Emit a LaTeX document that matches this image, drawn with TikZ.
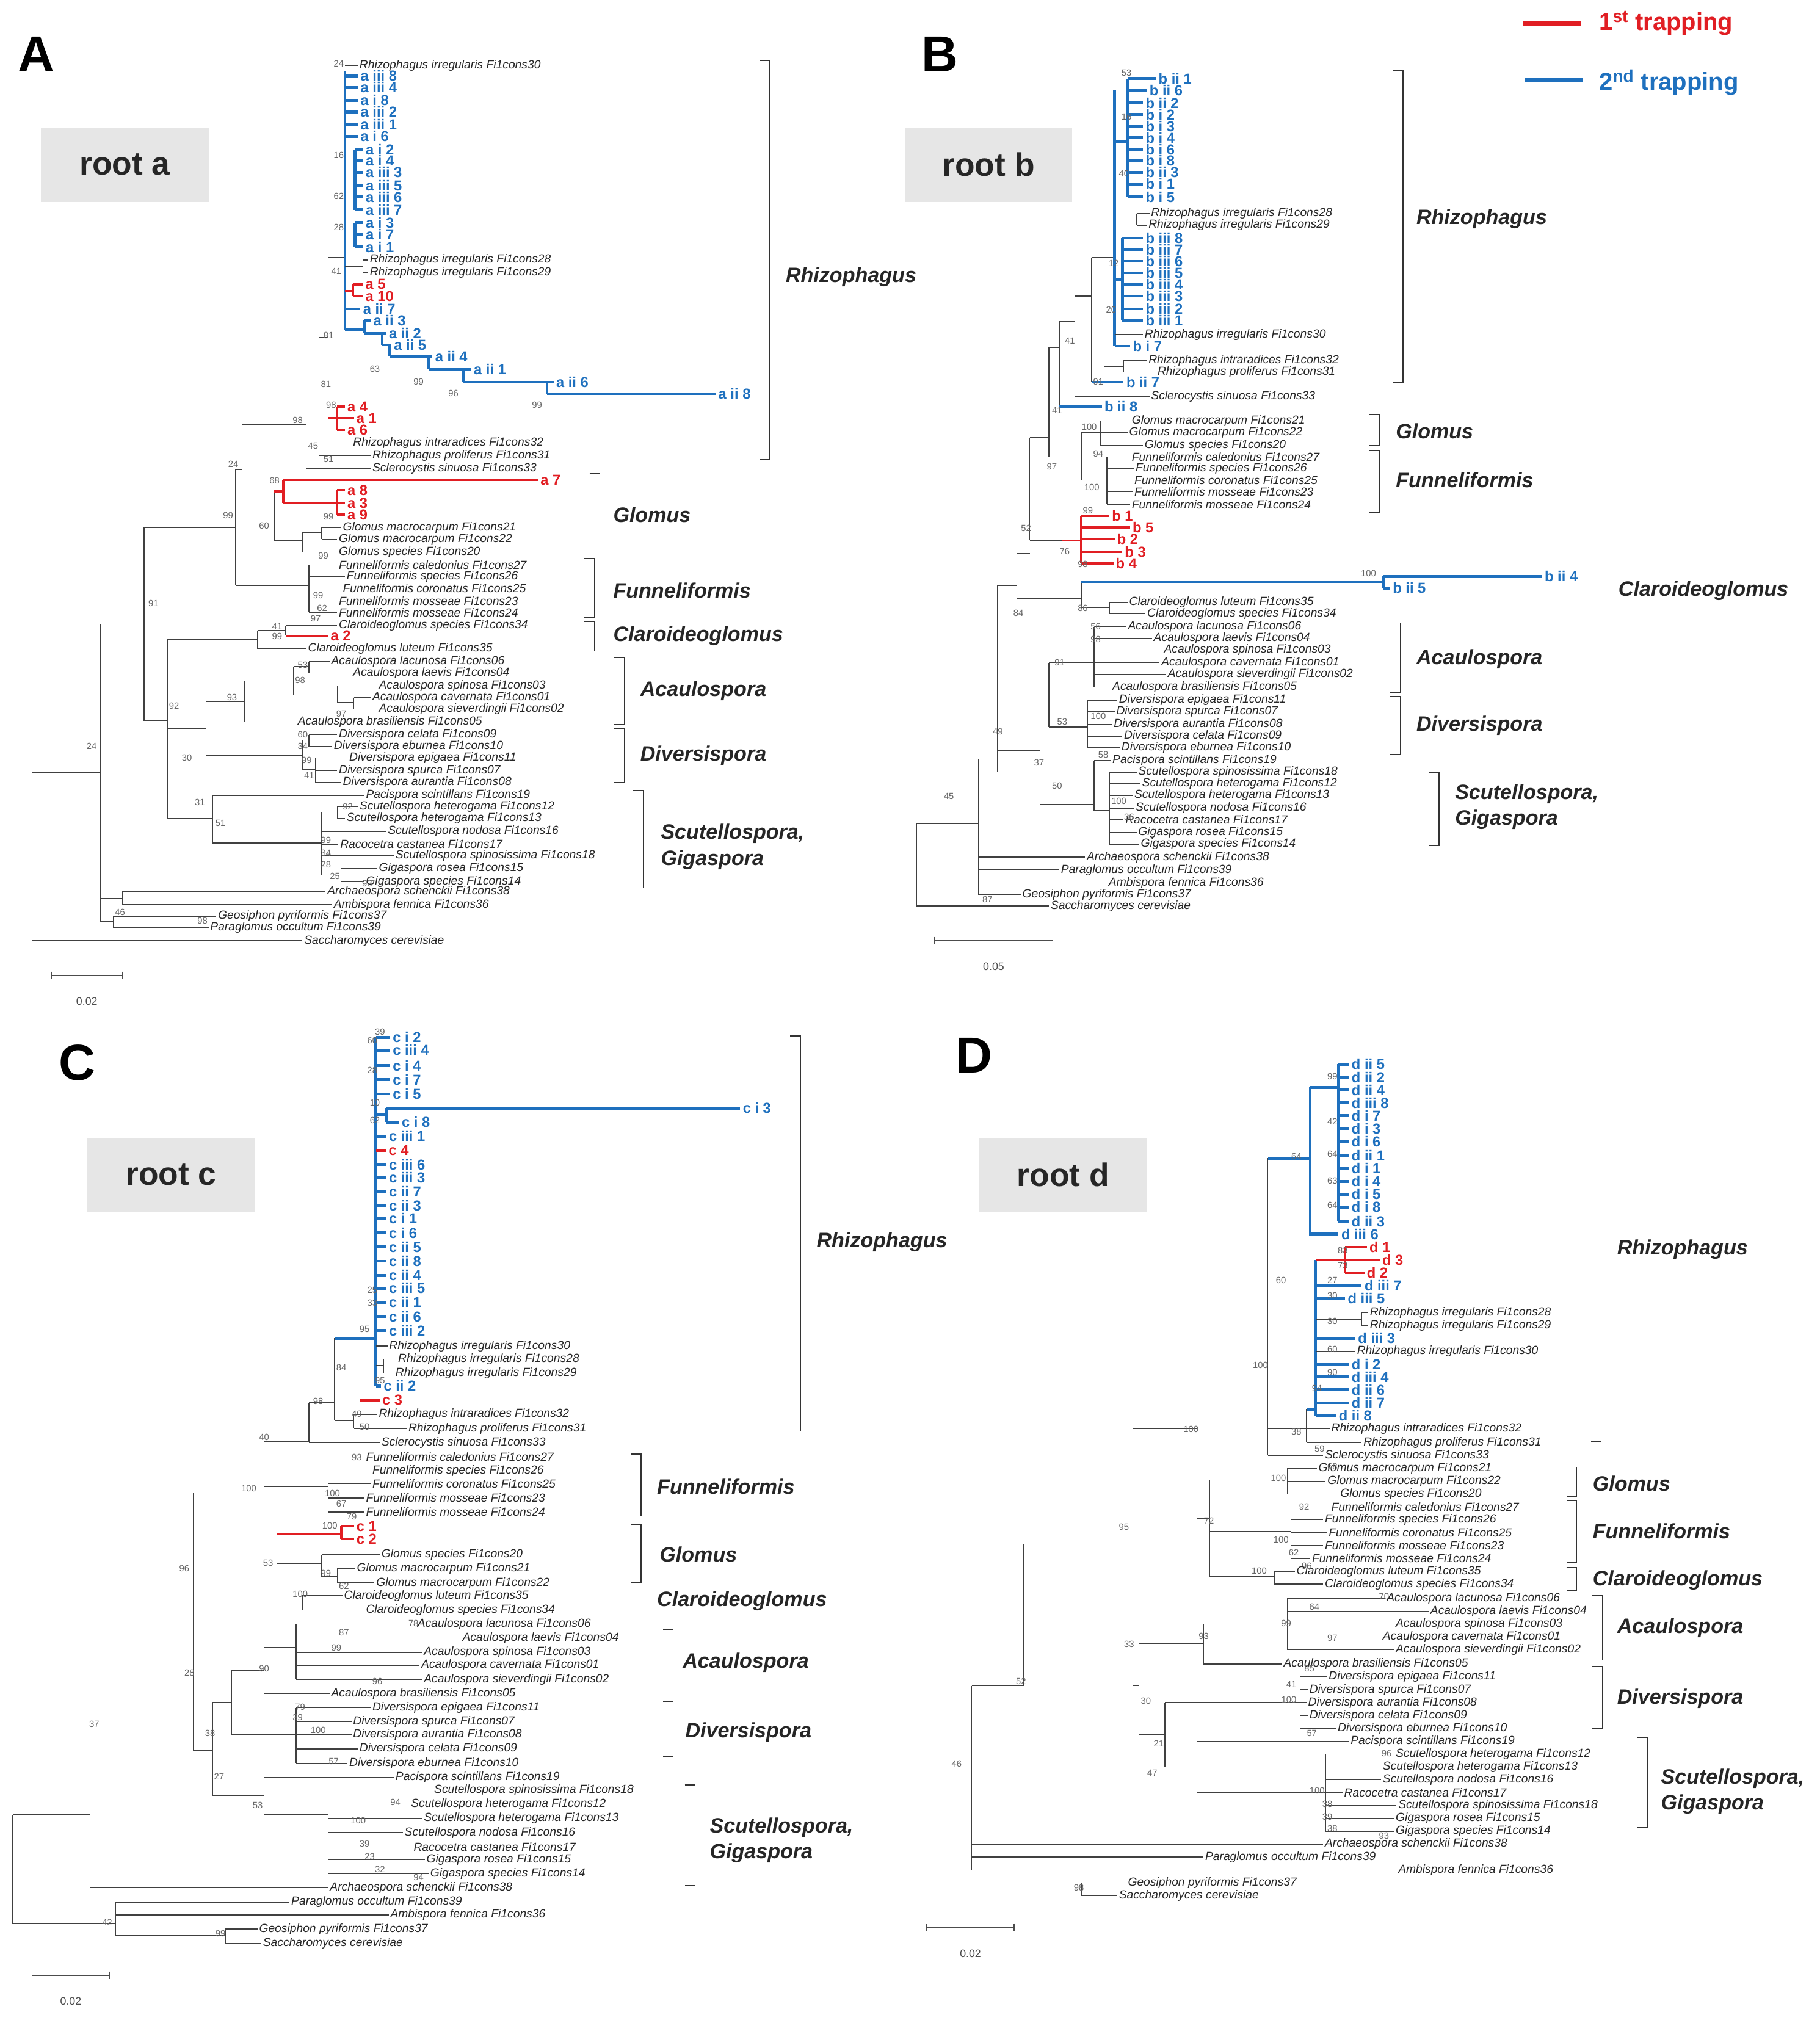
\documentclass[tikz,border=0pt]{standalone}
\usepackage{fontspec}
\setmainfont{Liberation Sans}
\definecolor{bl}{RGB}{30,112,190}
\definecolor{rd}{RGB}{225,30,35}
\definecolor{gbox}{RGB}{230,230,230}
\tikzset{
 tk/.style={line width=0.9pt,black!75},
 tb/.style={line width=3.2pt,bl},
 tr/.style={line width=2.6pt,rd},
 lk/.style={anchor=west,inner sep=1.5pt,font=\fontsize{13}{13}\selectfont\itshape,text=black!85},
 lb/.style={anchor=west,inner sep=1.5pt,font=\fontsize{16}{16}\selectfont\bfseries,text=bl},
 lr/.style={anchor=west,inner sep=1.5pt,font=\fontsize{16}{16}\selectfont\bfseries,text=rd},
 bs/.style={anchor=south east,inner sep=1pt,font=\fontsize{10}{10}\selectfont,text=black!60},
 cl/.style={anchor=west,font=\fontsize{23}{23}\selectfont\bfseries\itshape,text=black!85},
 rootbox/.style={fill=gbox,minimum width=6.5cm,minimum height=2.9cm,font=\fontsize{36}{36}\selectfont\bfseries,text=black!85},
 pl/.style={font=\fontsize{56}{56}\selectfont\bfseries},
 sc/.style={font=\fontsize{12}{12}\selectfont,text=black!70},
}
\newcommand\LK[4]{\draw[tk] (#1,#3)--(#2,#3) node[lk]{#4};}
\newcommand\LB[4]{\draw[tb] (#1,#3)--(#2,#3) node[lb]{#4};}
\newcommand\LR[4]{\draw[tr] (#1,#3)--(#2,#3) node[lr]{#4};}
\newcommand\VK[3]{\draw[tk] (#1,#2)--(#1,#3);}
\newcommand\VB[3]{\draw[tb] (#1,#2)--(#1,#3);}
\newcommand\VR[3]{\draw[tr] (#1,#2)--(#1,#3);}
\newcommand\HK[3]{\draw[tk] (#1,#3)--(#2,#3);}
\newcommand\HB[3]{\draw[tb] (#1,#3)--(#2,#3);}
\newcommand\HR[3]{\draw[tr] (#1,#3)--(#2,#3);}
\newcommand\BS[3]{\node[bs] at (#1,#2) {#3};}
\newcommand\BRK[3]{\draw[line width=1pt,black!80] (#1-8,#2)--(#1,#2)--(#1,#3)--(#1-8,#3);}
\newcommand\CLD[3]{\node[cl] at (#1,#2) {#3};}
\newcommand\SCB[4]{\draw[line width=1pt,black!70] (#1,#3)--(#2,#3); \draw[line width=1pt,black!70] (#1,#3-3)--(#1,#3+3) (#2,#3-3)--(#2,#3+3); \node[sc] at ({(#1+#2)/2},#3+20) {#4};}
\begin{document}
\begin{tikzpicture}[x=0.05cm,y=-0.05cm]
\fill[white] (0,0) rectangle (1414,1572);
\useasboundingbox (0,0) rectangle (1414,1572);
% legend
\draw[rd,line width=5pt] (1183,18)--(1228,18);
\node[anchor=west,text=rd,font=\fontsize{27}{27}\selectfont\bfseries] at (1240,18) {1\textsuperscript{st} trapping};
\draw[bl,line width=5pt] (1185,62)--(1230,62);
\node[anchor=west,text=bl,font=\fontsize{27}{27}\selectfont\bfseries] at (1240,64) {2\textsuperscript{nd} trapping};
% ================= A =================
\node[pl] at (28,42) {A};
\node[rootbox] at (97,128) {root a};
\LK{25}{235}{731}{Saccharomyces cerevisiae}
\VK{25}{600}{731}\HK{25}{78}{600}
\VK{78}{485}{716}
\VK{88}{712}{721}\HK{78}{88}{716}
\LK{88}{168}{712}{Geosiphon pyriformis Fi1cons37}
\LK{88}{162}{721}{Paraglomus occultum Fi1cons39}
\VK{95}{693}{703}\HK{78}{95}{698}
\LK{95}{253}{693}{Archaeospora schenckii Fi1cons38}
\LK{95}{258}{703}{Ambispora fennica Fi1cons36}
\HK{78}{112}{485}
\VK{112}{410}{560}\HK{112}{183}{410}\HK{112}{130}{560}
\VK{130}{497}{636}
\HK{130}{200}{497}\VK{200}{490}{504}\VK{222}{486}{494}\HK{200}{222}{490}
\LK{222}{262}{486}{Claroideoglomus species Fi1cons34}
\LR{222}{255}{494}{a 2}
\LK{200}{238}{504}{Claroideoglomus luteum Fi1cons35}
\HK{130}{160}{566}\VK{160}{545}{587}
\HK{160}{190}{545}\VK{190}{529}{561}\HK{190}{228}{529}\VK{228}{518}{540}
\HK{228}{240}{518}\VK{240}{514}{523}
\LK{240}{256}{514}{Acaulospora lacunosa Fi1cons06}
\LK{240}{273}{523}{Acaulospora laevis Fi1cons04}
\HK{228}{262}{540}\VK{262}{533}{546}\HK{262}{275}{546}\VK{275}{542}{551}
\LK{262}{293}{533}{Acaulospora spinosa Fi1cons03}
\LK{275}{288}{542}{Acaulospora cavernata Fi1cons01}
\LK{275}{293}{551}{Acaulospora sieverdingii Fi1cons02}
\LK{190}{230}{561}{Acaulospora brasiliensis Fi1cons05}
\HK{160}{235}{587}\VK{235}{575}{598}\HK{235}{240}{575}\VK{240}{571}{580}\HK{235}{245}{598}\VK{245}{589}{608}
\LK{240}{262}{571}{Diversispora celata Fi1cons09}
\LK{240}{258}{580}{Diversispora eburnea Fi1cons10}
\LK{245}{270}{589}{Diversispora epigaea Fi1cons11}
\LK{245}{262}{599}{Diversispora spurca Fi1cons07}
\LK{245}{265}{608}{Diversispora aurantia Fi1cons08}
\HK{130}{165}{636}\VK{165}{618}{655}
\LK{165}{283}{618}{Pacispora scintillans Fi1cons19}
\HK{165}{250}{655}\VK{250}{631}{680}\HK{250}{262}{631}\VK{262}{627}{636}
\LK{262}{278}{627}{Scutellospora heterogama Fi1cons12}
\LK{262}{268}{636}{Scutellospora heterogama Fi1cons13}
\LK{250}{300}{646}{Scutellospora nodosa Fi1cons16}
\LK{250}{263}{656}{Racocetra castanea Fi1cons17}
\LK{250}{306}{665}{Scutellospora spinosissima Fi1cons18}
\HK{250}{265}{680}\VK{265}{675}{685}
\LK{265}{293}{675}{Gigaspora rosea Fi1cons15}
\LK{265}{283}{685}{Gigaspora species Fi1cons14}
\VK{183}{365}{455}\HK{183}{188}{365}\HK{183}{240}{455}
\VK{240}{439}{476}
\LK{240}{262}{439}{Funneliformis caledonius Fi1cons27}
\LK{240}{268}{448}{Funneliformis species Fi1cons26}
\LK{240}{265}{457}{Funneliformis coronatus Fi1cons25}
\LK{240}{262}{467}{Funneliformis mosseae Fi1cons23}
\LK{240}{262}{476}{Funneliformis mosseae Fi1cons24}
\VK{188}{330}{400}\HK{188}{238}{330}\HK{188}{213}{400}
\VK{213}{382}{420}\HR{213}{220}{382}\VR{220}{373}{391}
\LR{220}{418}{373}{a 7}
\HR{220}{262}{391}\VR{262}{381}{400}
\LR{262}{268}{381}{a 8}\LR{262}{268}{391}{a 3}\LR{262}{268}{400}{a 9}
\HK{213}{235}{420}\VK{235}{414}{429}\HK{235}{250}{414}\VK{250}{410}{419}
\LK{250}{265}{410}{Glomus macrocarpum Fi1cons21}
\LK{250}{262}{419}{Glomus macrocarpum Fi1cons22}
\LK{235}{262}{429}{Glomus species Fi1cons20}
\VK{238}{300}{364}\HK{238}{248}{300}
\LK{238}{288}{364}{Sclerocystis sinuosa Fi1cons33}
\VK{248}{262}{354}\HK{248}{255}{262}
\LK{248}{273}{344}{Rhizophagus intraradices Fi1cons32}
\LK{248}{288}{354}{Rhizophagus proliferus Fi1cons31}
\VK{255}{200}{325}\HK{255}{268}{200}
\HR{255}{262}{325}\VR{262}{316}{334}
\LR{262}{268}{316}{a 4}\LR{262}{275}{325}{a 1}\LR{262}{268}{334}{a 6}
\VB{268}{55}{256}
\LK{268}{278}{51}{Rhizophagus irregularis Fi1cons30}
\foreach \y/\t in {59/a iii 8,68/a iii 4,78/a i 8,87/a iii 2,97/a iii 1,106/a i 6}{\LB{268}{278}{\y}{\t}}
\VB{276}{116}{163}\VB{276}{173}{192}
\foreach \y/\t in {116/a i 2,125/a i 4,134/a iii 3,144/a iii 5,153/a iii 6,163/a iii 7,173/a i 3,182/a i 7,192/a i 1}{\LB{276}{282}{\y}{\t}}
\VK{282}{202}{212}\HK{268}{282}{207}
\LK{282}{286}{202}{Rhizophagus irregularis Fi1cons28}
\LK{282}{286}{212}{Rhizophagus irregularis Fi1cons29}
\VR{274}{221}{230}\HR{268}{274}{226}
\LR{274}{282}{221}{a 5}\LR{274}{282}{230}{a 10}
\LB{268}{280}{240}{a ii 7}
\HB{268}{283}{256}\VB{283}{249}{259}\LB{283}{288}{249}{a ii 3}
\HB{283}{297}{259}\VB{297}{259}{268}\LB{297}{300}{259}{a ii 2}
\HB{297}{303}{268}\VB{303}{268}{277}\LB{303}{304}{268}{a ii 5}
\HB{303}{333}{277}\VB{333}{277}{287}\LB{333}{336}{277}{a ii 4}
\HB{333}{360}{287}\VB{360}{287}{297}\LB{360}{366}{287}{a ii 1}
\HB{360}{425}{297}\VB{425}{297}{306}\LB{425}{430}{297}{a ii 6}
\LB{425}{556}{306}{a ii 8}
\BS{268}{53}{24}\BS{268}{124}{16}\BS{268}{156}{62}\BS{268}{180}{28}\BS{266}{214}{41}\BS{260}{264}{81}\BS{296}{290}{63}\BS{330}{300}{99}\BS{357}{309}{96}\BS{422}{318}{99}
\BS{258}{302}{81}\BS{262}{318}{98}\BS{248}{350}{45}\BS{260}{360}{51}\BS{236}{330}{98}\BS{186}{364}{24}\BS{218}{377}{68}\BS{210}{412}{60}\BS{182}{404}{99}\BS{260}{405}{99}\BS{256}{435}{99}\BS{252}{466}{99}\BS{255}{476}{62}\BS{250}{484}{97}
\BS{220}{490}{41}\BS{220}{498}{99}\BS{124}{472}{91}\BS{240}{520}{53}\BS{238}{532}{98}\BS{185}{545}{93}\BS{270}{558}{97}\BS{140}{552}{92}\BS{240}{574}{60}\BS{240}{583}{34}\BS{243}{594}{99}\BS{245}{606}{41}\BS{150}{592}{30}\BS{160}{627}{31}\BS{176}{643}{51}\BS{275}{630}{92}\BS{258}{656}{99}\BS{258}{666}{34}\BS{258}{675}{28}\BS{265}{684}{25}\BS{290}{690}{93}\BS{76}{583}{24}\BS{98}{712}{46}\BS{162}{719}{98}
\BRK{598}{47}{357}\CLD{608}{215}{Rhizophagus}
\BRK{466}{368}{432}\CLD{474}{400}{Glomus}
\BRK{462}{434}{480}\CLD{474}{459}{Funneliformis}
\BRK{462}{483}{506}\CLD{474}{494}{Claroideoglomus}
\BRK{485}{511}{563}\CLD{495}{537}{Acaulospora}
\BRK{485}{566}{608}\CLD{495}{587}{Diversispora}
\BRK{500}{614}{690}\CLD{511}{648}{Scutellospora,}\CLD{511}{668}{Gigaspora}
\SCB{40}{95}{758}{0.02}
% ================= B =================
\node[pl] at (730,42) {B};
\node[rootbox] at (768,128) {root b};
\VK{712}{640}{704}\HK{712}{760}{640}
\LK{712}{815}{704}{Saccharomyces cerevisiae}
\VK{760}{590}{695}
\LK{760}{793}{695}{Geosiphon pyriformis Fi1cons37}
\LK{760}{860}{686}{Ambispora fennica Fi1cons36}
\LK{760}{823}{676}{Paraglomus occultum Fi1cons39}
\LK{760}{843}{666}{Archaeospora schenckii Fi1cons38}
\HK{760}{775}{590}\VK{775}{455}{600}
\HK{775}{808}{583}\VK{808}{540}{625}
\HK{808}{850}{625}\VK{850}{591}{630}
\LK{850}{863}{591}{Pacispora scintillans Fi1cons19}
\HK{850}{862}{630}\VK{862}{600}{656}
\LK{862}{883}{600}{Scutellospora spinosissima Fi1cons18}
\LK{862}{886}{609}{Scutellospora heterogama Fi1cons12}
\LK{862}{880}{618}{Scutellospora heterogama Fi1cons13}
\LK{862}{881}{628}{Scutellospora nodosa Fi1cons16}
\LK{862}{873}{637}{Racocetra castanea Fi1cons17}
\LK{862}{883}{647}{Gigaspora rosea Fi1cons15}
\LK{862}{885}{656}{Gigaspora species Fi1cons14}
\HK{808}{815}{540}\VK{815}{515}{565}
\HK{815}{850}{515}\VK{850}{487}{534}
\LK{850}{875}{487}{Acaulospora lacunosa Fi1cons06}
\LK{850}{895}{496}{Acaulospora laevis Fi1cons04}
\LK{850}{903}{505}{Acaulospora spinosa Fi1cons03}
\LK{850}{901}{515}{Acaulospora cavernata Fi1cons01}
\LK{850}{906}{524}{Acaulospora sieverdingii Fi1cons02}
\LK{850}{863}{534}{Acaulospora brasiliensis Fi1cons05}
\HK{815}{845}{565}\VK{845}{544}{581}
\LK{845}{868}{544}{Diversispora epigaea Fi1cons11}
\LK{845}{866}{553}{Diversispora spurca Fi1cons07}
\LK{845}{864}{563}{Diversispora aurantia Fi1cons08}
\LK{845}{872}{572}{Diversispora celata Fi1cons09}
\LK{845}{870}{581}{Diversispora eburnea Fi1cons10}
\HK{775}{790}{455}\VK{790}{430}{465}
\HK{790}{840}{465}\VK{840}{452}{472}
\HB{840}{1075}{452}\VB{1075}{448}{457}
\LB{1075}{1198}{448}{b ii 4}\LB{1075}{1080}{457}{b ii 5}
\HK{840}{862}{472}\VK{862}{468}{477}
\LK{862}{876}{468}{Claroideoglomus luteum Fi1cons35}
\LK{862}{890}{477}{Claroideoglomus species Fi1cons34}
\HK{790}{800}{430}\VK{800}{340}{420}
\HK{800}{825}{420}\HR{825}{840}{420}\VR{840}{401}{438}
\LR{840}{862}{401}{b 1}\LR{840}{878}{410}{b 5}\LR{840}{866}{419}{b 2}\LR{840}{872}{429}{b 3}\LR{840}{865}{438}{b 4}
\HK{800}{815}{340}\VK{815}{270}{355}
\HK{815}{840}{355}\VK{840}{336}{373}
\HK{840}{855}{336}\VK{855}{327}{346}
\LK{855}{878}{327}{Glomus macrocarpum Fi1cons21}
\LK{855}{876}{336}{Glomus macrocarpum Fi1cons22}
\LK{855}{888}{346}{Glomus species Fi1cons20}
\HK{840}{860}{373}\VK{860}{355}{392}
\LK{860}{878}{355}{Funneliformis caledonius Fi1cons27}
\LK{860}{881}{364}{Funneliformis species Fi1cons26}
\LK{860}{880}{373}{Funneliformis coronatus Fi1cons25}
\LK{860}{880}{382}{Funneliformis mosseae Fi1cons23}
\LK{860}{878}{392}{Funneliformis mosseae Fi1cons24}
\HK{815}{823}{270}\VK{823}{250}{316}
\LB{823}{856}{316}{b ii 8}
\HK{823}{835}{250}\VK{835}{230}{308}
\LK{835}{893}{308}{Sclerocystis sinuosa Fi1cons33}
\HK{835}{848}{230}\VK{848}{200}{297}
\LB{848}{873}{297}{b ii 7}
\HK{848}{858}{200}\VK{858}{200}{285}
\HK{858}{873}{285}\VK{873}{280}{289}
\LK{873}{891}{280}{Rhizophagus intraradices Fi1cons32}
\LK{873}{898}{289}{Rhizophagus proliferus Fi1cons31}
\HK{858}{866}{200}\VB{866}{70}{269}
\LB{866}{878}{269}{b i 7}
\LK{866}{888}{260}{Rhizophagus irregularis Fi1cons30}
\HB{866}{872}{217}\VB{872}{185}{249}
\foreach \y/\t in {185/b iii 8,194/b iii 7,203/b iii 6,212/b iii 5,221/b iii 4,230/b iii 3,240/b iii 2,249/b iii 1}{\LB{872}{888}{\y}{\t}}
\HK{866}{883}{170}\VK{883}{166}{175}
\LK{883}{893}{166}{Rhizophagus irregularis Fi1cons28}
\LK{883}{891}{175}{Rhizophagus irregularis Fi1cons29}
\HB{866}{876}{110}\VB{876}{61}{153}
\LB{876}{898}{61}{b ii 1}\LB{876}{891}{70}{b ii 6}
\foreach \y/\t in {80/b ii 2,89/b i 2,98/b i 3,107/b i 4,116/b i 6,125/b i 8,134/b ii 3,143/b i 1,153/b i 5}{\LB{876}{888}{\y}{\t}}
\BS{880}{60}{53}\BS{880}{94}{16}\BS{878}{138}{40}\BS{870}{208}{12}\BS{868}{244}{20}\BS{836}{268}{41}\BS{826}{322}{41}\BS{858}{300}{91}\BS{853}{335}{100}\BS{858}{356}{94}\BS{855}{382}{100}\BS{822}{366}{97}\BS{802}{414}{52}\BS{850}{400}{99}\BS{832}{432}{76}\BS{846}{442}{98}\BS{1070}{449}{100}\BS{846}{476}{86}\BS{828}{518}{91}\BS{830}{564}{53}\BS{860}{560}{100}\BS{862}{590}{58}\BS{812}{596}{37}\BS{826}{614}{50}\BS{780}{572}{49}\BS{796}{480}{84}\BS{742}{622}{45}\BS{772}{702}{87}\BS{876}{626}{100}\BS{882}{638}{36}\BS{856}{490}{56}\BS{856}{500}{98}
\BRK{1090}{55}{297}\CLD{1098}{170}{Rhizophagus}
\BRK{1072}{322}{346}\CLD{1082}{335}{Glomus}
\BRK{1072}{350}{398}\CLD{1082}{373}{Funneliformis}
\BRK{1243}{440}{478}\CLD{1255}{459}{Claroideoglomus}
\BRK{1088}{484}{538}\CLD{1098}{512}{Acaulospora}
\BRK{1088}{541}{586}\CLD{1098}{564}{Diversispora}
\BRK{1118}{600}{657}\CLD{1128}{617}{Scutellospora,}\CLD{1128}{637}{Gigaspora}
\SCB{726}{818}{731}{0.05}
% ================= C =================
\node[pl] at (60,826) {C};
\node[rootbox] at (133,913) {root c};
\VK{10}{1410}{1495}\HK{10}{70}{1410}\HK{10}{90}{1495}
\VK{90}{1478}{1504}
\LK{90}{225}{1478}{Paraglomus occultum Fi1cons39}
\LK{90}{302}{1488}{Ambispora fennica Fi1cons36}
\HK{90}{175}{1504}\VK{175}{1499}{1510}
\LK{175}{200}{1499}{Geosiphon pyriformis Fi1cons37}
\LK{175}{203}{1510}{Saccharomyces cerevisiae}
\VK{70}{1250}{1467}\HK{70}{150}{1250}
\LK{70}{255}{1467}{Archaeospora schenckii Fi1cons38}
\VK{150}{1160}{1360}\HK{150}{205}{1160}\HK{150}{165}{1360}
\VK{205}{1120}{1245}
\HK{205}{240}{1120}\VK{240}{1090}{1121}
\LK{240}{295}{1121}{Sclerocystis sinuosa Fi1cons33}
\HK{240}{260}{1090}\VK{260}{1040}{1104}
\HK{260}{275}{1104}\VK{275}{1099}{1110}
\LK{275}{293}{1099}{Rhizophagus intraradices Fi1cons32}
\LK{275}{316}{1110}{Rhizophagus proliferus Fi1cons31}
\HK{260}{280}{1088}\LR{280}{295}{1088}{c 3}
\HB{260}{292}{1040}\VB{292}{806}{1077}
\LB{292}{296}{1077}{c ii 2}
\LK{292}{301}{1046}{Rhizophagus irregularis Fi1cons30}
\HK{292}{298}{1061}\VK{298}{1056}{1067}
\LK{298}{308}{1056}{Rhizophagus irregularis Fi1cons28}
\LK{298}{306}{1067}{Rhizophagus irregularis Fi1cons29}
\foreach \y/\t in {806/c i 2,816/c iii 4,828/c i 4,839/c i 7,850/c i 5}{\LB{292}{303}{\y}{\t}}
\HB{292}{300}{866}\VB{300}{861}{872}
\LB{300}{575}{861}{c i 3}\LB{300}{310}{872}{c i 8}
\LB{292}{300}{883}{c iii 1}
\LR{292}{300}{894}{c 4}
\foreach \y/\t in {905/c iii 6,915/c iii 3,926/c ii 7,937/c ii 3,947/c i 1,958/c i 6,969/c ii 5,980/c ii 8,991/c ii 4,1001/c iii 5,1012/c ii 1,1023/c ii 6,1034/c iii 2}{\LB{292}{300}{\y}{\t}}
\HK{205}{255}{1155}\VK{255}{1132}{1175}
\LK{255}{283}{1132}{Funneliformis caledonius Fi1cons27}
\LK{255}{288}{1143}{Funneliformis species Fi1cons26}
\LK{255}{288}{1153}{Funneliformis coronatus Fi1cons25}
\LK{255}{283}{1164}{Funneliformis mosseae Fi1cons23}
\LK{255}{283}{1175}{Funneliformis mosseae Fi1cons24}
\HK{205}{215}{1200}\VK{215}{1192}{1215}
\HR{215}{265}{1192}\VR{265}{1186}{1196}
\LR{265}{275}{1186}{c 1}\LR{265}{275}{1196}{c 2}
\HK{215}{250}{1215}\VK{250}{1208}{1225}
\LK{250}{295}{1208}{Glomus species Fi1cons20}
\HK{250}{262}{1225}\VK{262}{1219}{1230}
\LK{262}{276}{1219}{Glomus macrocarpum Fi1cons21}
\LK{262}{291}{1230}{Glomus macrocarpum Fi1cons22}
\HK{205}{235}{1245}\VK{235}{1240}{1251}
\LK{235}{266}{1240}{Claroideoglomus luteum Fi1cons35}
\LK{235}{283}{1251}{Claroideoglomus species Fi1cons34}
\VK{165}{1323}{1395}\HK{165}{180}{1323}\VK{180}{1298}{1348}
\HK{180}{205}{1298}\VK{205}{1280}{1316}\HK{205}{230}{1280}\VK{230}{1262}{1305}
\LK{230}{323}{1262}{Acaulospora lacunosa Fi1cons06}
\LK{230}{358}{1273}{Acaulospora laevis Fi1cons04}
\LK{230}{328}{1284}{Acaulospora spinosa Fi1cons03}
\LK{230}{326}{1294}{Acaulospora cavernata Fi1cons01}
\LK{230}{328}{1305}{Acaulospora sieverdingii Fi1cons02}
\LK{205}{256}{1316}{Acaulospora brasiliensis Fi1cons05}
\HK{180}{230}{1348}\VK{230}{1327}{1370}
\LK{230}{288}{1327}{Diversispora epigaea Fi1cons11}
\LK{230}{273}{1338}{Diversispora spurca Fi1cons07}
\LK{230}{273}{1348}{Diversispora aurantia Fi1cons08}
\LK{230}{278}{1359}{Diversispora celata Fi1cons09}
\LK{230}{270}{1370}{Diversispora eburnea Fi1cons10}
\HK{165}{205}{1395}\VK{205}{1381}{1410}
\LK{205}{306}{1381}{Pacispora scintillans Fi1cons19}
\HK{205}{255}{1410}\VK{255}{1391}{1456}
\LK{255}{336}{1391}{Scutellospora spinosissima Fi1cons18}
\LK{255}{318}{1402}{Scutellospora heterogama Fi1cons12}
\LK{255}{328}{1413}{Scutellospora heterogama Fi1cons13}
\LK{255}{313}{1424}{Scutellospora nodosa Fi1cons16}
\LK{255}{320}{1435}{Racocetra castanea Fi1cons17}
\LK{255}{330}{1445}{Gigaspora rosea Fi1cons15}
\LK{255}{333}{1456}{Gigaspora species Fi1cons14}
\BS{300}{805}{39}\BS{294}{812}{60}\BS{294}{835}{28}\BS{296}{860}{10}\BS{296}{874}{62}\BS{294}{1006}{25}\BS{294}{1016}{33}\BS{288}{1036}{95}\BS{300}{1076}{95}\BS{270}{1066}{84}\BS{252}{1092}{98}\BS{282}{1102}{49}\BS{288}{1112}{50}\BS{210}{1120}{40}\BS{200}{1160}{100}\BS{282}{1136}{93}\BS{265}{1164}{100}\BS{270}{1172}{67}\BS{263}{1189}{100}\BS{278}{1182}{79}\BS{213}{1218}{53}\BS{258}{1226}{99}\BS{272}{1236}{62}\BS{240}{1242}{100}\BS{326}{1265}{78}\BS{272}{1272}{87}\BS{266}{1284}{99}\BS{210}{1300}{90}\BS{298}{1310}{96}\BS{238}{1330}{79}\BS{236}{1338}{39}\BS{254}{1348}{100}\BS{264}{1372}{57}\BS{148}{1222}{96}\BS{152}{1303}{28}\BS{168}{1350}{38}\BS{175}{1384}{27}\BS{205}{1406}{53}\BS{312}{1404}{94}\BS{285}{1418}{100}\BS{288}{1436}{39}\BS{292}{1446}{23}\BS{300}{1456}{32}\BS{330}{1462}{94}\BS{78}{1343}{37}\BS{88}{1497}{42}\BS{176}{1506}{99}
\BRK{622}{805}{1112}\CLD{632}{965}{Rhizophagus}
\BRK{498}{1130}{1178}\CLD{508}{1155}{Funneliformis}
\BRK{498}{1185}{1230}\CLD{510}{1208}{Glomus}
\CLD{508}{1244}{Claroideoglomus}
\BRK{523}{1266}{1318}\CLD{528}{1292}{Acaulospora}
\BRK{523}{1322}{1365}\CLD{530}{1346}{Diversispora}
\BRK{540}{1387}{1465}\CLD{549}{1420}{Scutellospora,}\CLD{549}{1440}{Gigaspora}
\SCB{25}{85}{1535}{0.02}
% ================= D =================
\node[pl] at (757,820) {D};
\node[rootbox] at (826,913) {root d};
\VK{707}{1390}{1468}\HK{707}{840}{1468}\VK{840}{1463}{1473}
\LK{840}{875}{1463}{Geosiphon pyriformis Fi1cons37}
\LK{840}{868}{1473}{Saccharomyces cerevisiae}
\HK{707}{755}{1390}\VK{755}{1310}{1453}
\LK{755}{1028}{1433}{Archaeospora schenckii Fi1cons38}
\LK{755}{935}{1443}{Paraglomus occultum Fi1cons39}
\LK{755}{1085}{1453}{Ambispora fennica Fi1cons36}
\HK{755}{795}{1310}\VK{795}{1200}{1310}\HK{795}{880}{1200}
\VK{880}{1110}{1310}\HK{880}{930}{1110}\HK{880}{885}{1310}
\VK{930}{1060}{1180}\HK{930}{985}{1060}\HK{930}{940}{1180}
\VK{940}{1150}{1225}
\HK{940}{1000}{1150}\VK{1000}{1141}{1161}
\LK{1000}{1023}{1141}{Glomus macrocarpum Fi1cons21}
\LK{1000}{1030}{1151}{Glomus macrocarpum Fi1cons22}
\LK{1000}{1040}{1161}{Glomus species Fi1cons20}
\HK{940}{1003}{1190}\VK{1003}{1171}{1211}
\LK{1003}{1033}{1171}{Funneliformis caledonius Fi1cons27}
\LK{1003}{1028}{1181}{Funneliformis species Fi1cons26}
\LK{1003}{1031}{1191}{Funneliformis coronatus Fi1cons25}
\LK{1003}{1028}{1201}{Funneliformis mosseae Fi1cons23}
\LK{1003}{1018}{1211}{Funneliformis mosseae Fi1cons24}
\HK{940}{990}{1225}\VK{990}{1221}{1231}
\LK{990}{1006}{1221}{Claroideoglomus luteum Fi1cons35}
\LK{990}{1028}{1231}{Claroideoglomus species Fi1cons34}
\VK{985}{900}{1131}
\LK{985}{1028}{1131}{Sclerocystis sinuosa Fi1cons33}
\HB{985}{1018}{900}\VB{1018}{845}{960}
\HB{1018}{1040}{845}\VB{1040}{827}{949}
\foreach \y/\t in {827/d ii 5,837/d ii 2,847/d ii 4,857/d iii 8,867/d i 7,877/d i 3,887/d i 6,898/d ii 1,908/d i 1,918/d i 4,928/d i 5,938/d i 8,949/d ii 3}{\LB{1040}{1048}{\y}{\t}}
\LB{1018}{1040}{959}{d iii 6}
\HK{985}{1015}{1110}\VK{1015}{1095}{1121}
\LK{1015}{1033}{1110}{Rhizophagus intraradices Fi1cons32}
\LK{1015}{1058}{1121}{Rhizophagus proliferus Fi1cons31}
\HB{1015}{1022}{1095}\VB{1022}{979}{1100}
\HR{1022}{1045}{979}\VR{1045}{969}{989}
\LR{1045}{1062}{969}{d 1}\LR{1045}{1072}{979}{d 3}\LR{1045}{1060}{989}{d 2}
\LB{1022}{1058}{999}{d iii 7}\LB{1022}{1045}{1009}{d iii 5}
\HK{1022}{1058}{1025}\VK{1058}{1020}{1030}
\LK{1058}{1063}{1020}{Rhizophagus irregularis Fi1cons28}
\LK{1058}{1063}{1030}{Rhizophagus irregularis Fi1cons29}
\LB{1022}{1053}{1040}{d iii 3}
\LK{1022}{1053}{1050}{Rhizophagus irregularis Fi1cons30}
\foreach \y/\t in {1060/d i 2,1070/d iii 4,1080/d ii 6,1090/d ii 7}{\LB{1022}{1048}{\y}{\t}}
\LB{1022}{1038}{1100}{d ii 8}
\VK{885}{1277}{1348}\HK{885}{935}{1277}\VK{935}{1262}{1293}
\HK{935}{1000}{1262}\VK{1000}{1242}{1282}
\LK{1000}{1076}{1242}{Acaulospora lacunosa Fi1cons06}
\LK{1000}{1110}{1252}{Acaulospora laevis Fi1cons04}
\LK{1000}{1083}{1262}{Acaulospora spinosa Fi1cons03}
\LK{1000}{1073}{1272}{Acaulospora cavernata Fi1cons01}
\LK{1000}{1083}{1282}{Acaulospora sieverdingii Fi1cons02}
\LK{935}{996}{1293}{Acaulospora brasiliensis Fi1cons05}
\HK{885}{905}{1348}\VK{905}{1323}{1373}
\HK{905}{1010}{1323}\VK{1010}{1303}{1343}
\LK{1010}{1031}{1303}{Diversispora epigaea Fi1cons11}
\LK{1010}{1016}{1313}{Diversispora spurca Fi1cons07}
\LK{1010}{1015}{1323}{Diversispora aurantia Fi1cons08}
\LK{1010}{1016}{1333}{Diversispora celata Fi1cons09}
\LK{1010}{1038}{1343}{Diversispora eburnea Fi1cons10}
\HK{905}{930}{1373}\VK{930}{1353}{1393}
\LK{930}{1048}{1353}{Pacispora scintillans Fi1cons19}
\HK{930}{1030}{1393}\VK{1030}{1363}{1423}
\LK{1030}{1083}{1363}{Scutellospora heterogama Fi1cons12}
\LK{1030}{1073}{1373}{Scutellospora heterogama Fi1cons13}
\LK{1030}{1073}{1383}{Scutellospora nodosa Fi1cons16}
\LK{1030}{1043}{1393}{Racocetra castanea Fi1cons17}
\LK{1030}{1085}{1403}{Scutellospora spinosissima Fi1cons18}
\LK{1030}{1083}{1413}{Gigaspora rosea Fi1cons15}
\LK{1030}{1083}{1423}{Gigaspora species Fi1cons14}
\BS{1040}{840}{99}\BS{1040}{875}{42}\BS{1040}{900}{64}\BS{1040}{921}{63}\BS{1040}{940}{64}\BS{1012}{902}{64}\BS{1048}{975}{83}\BS{1048}{987}{73}\BS{1040}{998}{27}\BS{1040}{1010}{30}\BS{1040}{1030}{30}\BS{1040}{1052}{60}\BS{1040}{1070}{90}\BS{1028}{1082}{94}\BS{1012}{1116}{38}\BS{1030}{1129}{59}\BS{1000}{998}{60}\BS{986}{1064}{100}\BS{932}{1114}{100}\BS{1040}{1143}{68}\BS{1000}{1152}{100}\BS{1018}{1174}{92}\BS{1002}{1200}{100}\BS{1010}{1210}{62}\BS{1020}{1220}{96}\BS{985}{1224}{100}\BS{944}{1185}{72}\BS{1080}{1244}{70}\BS{1026}{1252}{64}\BS{1004}{1265}{99}\BS{1040}{1276}{97}\BS{940}{1275}{93}\BS{1022}{1300}{85}\BS{1008}{1312}{41}\BS{1008}{1324}{100}\BS{1024}{1350}{57}\BS{895}{1325}{30}\BS{905}{1358}{21}\BS{900}{1381}{47}\BS{1082}{1366}{96}\BS{1030}{1395}{100}\BS{1036}{1405}{38}\BS{1036}{1415}{39}\BS{1040}{1424}{38}\BS{1080}{1430}{93}\BS{878}{1190}{95}\BS{882}{1281}{33}\BS{798}{1310}{52}\BS{748}{1374}{46}\BS{843}{1470}{98}
\BRK{1244}{820}{1120}\CLD{1254}{971}{Rhizophagus}
\BRK{1225}{1140}{1163}\CLD{1235}{1153}{Glomus}
\BRK{1225}{1166}{1214}\CLD{1235}{1190}{Funneliformis}
\BRK{1225}{1218}{1236}\CLD{1235}{1228}{Claroideoglomus}
\BRK{1245}{1240}{1290}\CLD{1254}{1265}{Acaulospora}
\BRK{1245}{1295}{1343}\CLD{1254}{1320}{Diversispora}
\BRK{1280}{1350}{1420}\CLD{1288}{1382}{Scutellospora,}\CLD{1288}{1402}{Gigaspora}
\SCB{720}{788}{1498}{0.02}
\end{tikzpicture}
\end{document}
